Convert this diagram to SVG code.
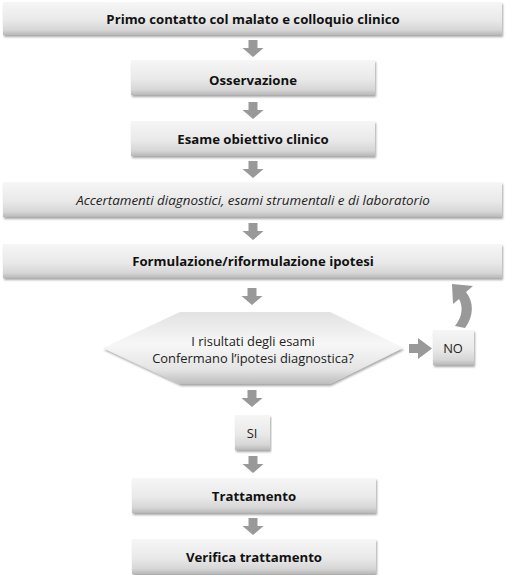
<svg xmlns="http://www.w3.org/2000/svg" width="506" height="575" viewBox="0 0 506 575">
<defs>
<linearGradient id="boxg" x1="0" y1="0" x2="0" y2="1">
<stop offset="0" stop-color="#f6f6f6"/>
<stop offset="0.55" stop-color="#e9e9e9"/>
<stop offset="0.85" stop-color="#d6d6d6"/>
<stop offset="1" stop-color="#b8b8b8"/>
</linearGradient>
<linearGradient id="hexg" x1="0" y1="0" x2="0" y2="1">
<stop offset="0" stop-color="#e2e2e2"/>
<stop offset="0.45" stop-color="#f7f7f7"/>
<stop offset="0.8" stop-color="#e4e4e4"/>
<stop offset="1" stop-color="#bdbdbd"/>
</linearGradient>
<filter id="sh" x="-5%" y="-20%" width="110%" height="150%">
<feGaussianBlur in="SourceAlpha" stdDeviation="1.2"/>
<feOffset dx="1" dy="1.5" result="b"/>
<feComponentTransfer><feFuncA type="linear" slope="0.35"/></feComponentTransfer>
<feMerge><feMergeNode/><feMergeNode in="SourceGraphic"/></feMerge>
</filter>
<path id="down" d="M -4.5 0 H 4.5 V 8 H 10.5 L 0 17 L -10.5 8 H -4.5 Z" fill="#999999"/>
</defs>
<style>
.box{fill:url(#boxg);filter:url(#sh)}
.b{font-family:"Open Sans","Noto Sans",sans-serif;font-weight:bold;font-size:13.2px;fill:#111;text-anchor:middle;dominant-baseline:central}
.r{font-family:"Open Sans","Noto Sans",sans-serif;font-size:12.9px;fill:#222;text-anchor:middle;dominant-baseline:central}
.i{font-style:italic;font-size:13.4px}
</style>
<g id="n1"><rect class="box" x="3" y="2" width="499" height="33"/><text class="b" x="253" y="19">Primo contatto col malato e colloquio clinico</text></g>
<g id="n2"><rect class="box" x="131" y="60" width="244" height="35"/><text class="b" x="253" y="80">Osservazione</text></g>
<g id="n3"><rect class="box" x="131" y="121" width="244" height="35"/><text class="b" x="253" y="139">Esame obiettivo clinico</text></g>
<g id="n4"><rect class="box" x="3" y="182" width="499" height="35"/><text class="r i" x="253" y="200">Accertamenti diagnostici, esami strumentali e di laboratorio</text></g>
<g id="n5"><rect class="box" x="3" y="244" width="499" height="34"/><text class="b" x="253" y="261">Formulazione/riformulazione ipotesi</text></g>
<g id="n6"><polygon points="103,348 180,312 330,312 403,348 330,384 180,384" fill="url(#hexg)" filter="url(#sh)"/><text class="r" x="253" y="341">I risultati degli esami</text><text class="r" x="253" y="358">Confermano l’ipotesi diagnostica?</text></g>
<g id="n7"><rect class="box" x="433" y="330" width="41" height="35"/><text class="r" x="453" y="348">NO</text></g>
<g id="n8"><rect class="box" x="235" y="415" width="35" height="35"/><text class="r" x="252" y="433">SI</text></g>
<g id="n9"><rect class="box" x="132" y="478" width="244" height="35"/><text class="b" x="254" y="496">Trattamento</text></g>
<g id="n10"><rect class="box" x="132" y="539" width="244" height="35"/><text class="b" x="254" y="557">Verifica trattamento</text></g>
<g id="connectors">
<use href="#down" x="253" y="40"/>
<use href="#down" x="253" y="102"/>
<use href="#down" x="253" y="161"/>
<use href="#down" x="253" y="223"/>
<use href="#down" x="252" y="288"/>
<use href="#down" x="252" y="390"/>
<use href="#down" x="253" y="456"/>
<use href="#down" x="253" y="518"/>
<path d="M 409 344 H 418 V 338 L 432 348.5 L 418 359 V 353 H 409 Z" fill="#999999"/>
<path d="M 452 284 L 473 286 L 466 292 C 474 302 474 316 465 328 L 455 326 C 463 316 463 306 459 299 L 453 304 Z" fill="#999999"/>
</g>
</svg>
